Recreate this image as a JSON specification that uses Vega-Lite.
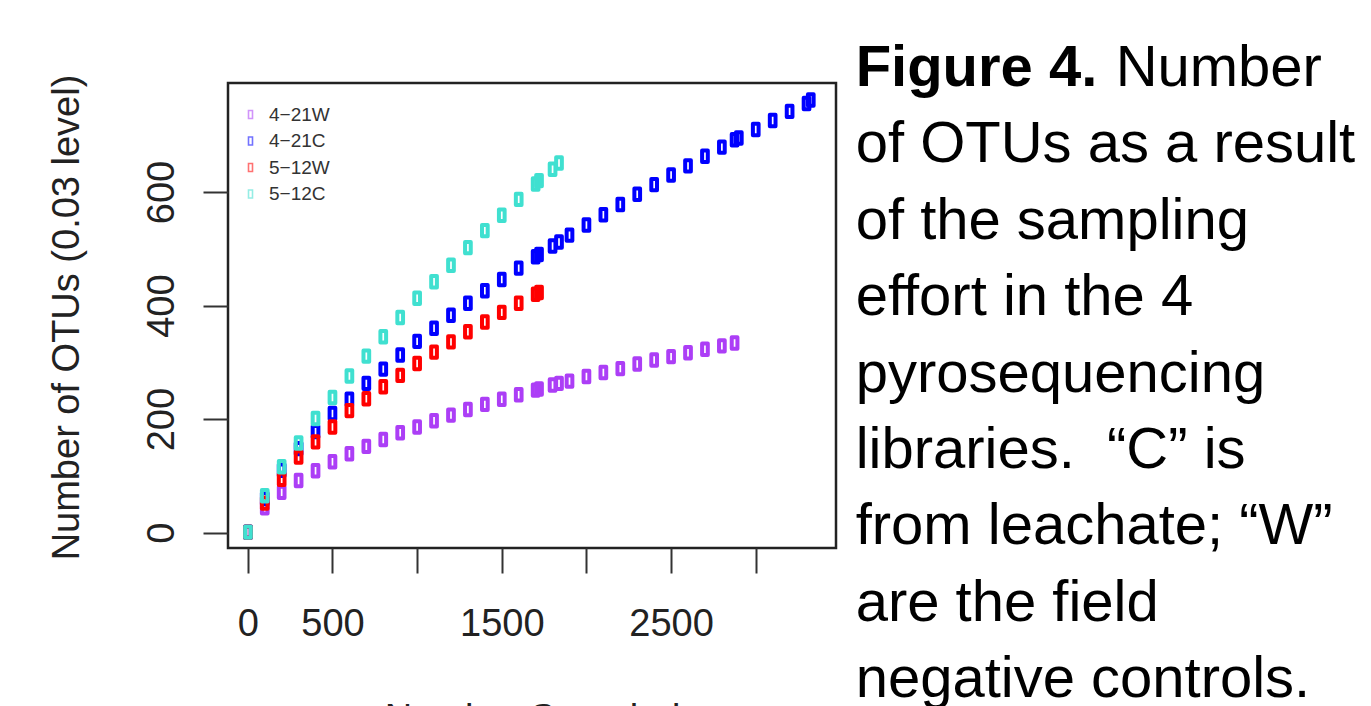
{
  "$schema": "https://vega.github.io/schema/vega-lite/v6.json",
  "width": 608,
  "height": 465,
  "autosize": {"type": "none"},
  "padding": {"left": 228, "top": 83, "right": 535, "bottom": 158},
  "background": "white",
  "config": {
    "view": {"stroke": "#222222", "strokeWidth": 2.5},
    "font": "Liberation Sans"
  },
  "datasets": {
    "otus": [
      {"lib": "4−21W", "n": 1, "otus": 1}, {"lib": "4−21W", "n": 100, "otus": 44}, {"lib": "4−21W", "n": 200, "otus": 71}, {"lib": "4−21W", "n": 300, "otus": 92}, {"lib": "4−21W", "n": 400, "otus": 109}, {"lib": "4−21W", "n": 500, "otus": 125}, {"lib": "4−21W", "n": 600, "otus": 139}, {"lib": "4−21W", "n": 700, "otus": 152}, {"lib": "4−21W", "n": 800, "otus": 164}, {"lib": "4−21W", "n": 900, "otus": 176}, {"lib": "4−21W", "n": 1000, "otus": 186}, {"lib": "4−21W", "n": 1100, "otus": 197}, {"lib": "4−21W", "n": 1200, "otus": 207}, {"lib": "4−21W", "n": 1300, "otus": 217}, {"lib": "4−21W", "n": 1400, "otus": 226}, {"lib": "4−21W", "n": 1500, "otus": 235}, {"lib": "4−21W", "n": 1600, "otus": 243}, {"lib": "4−21W", "n": 1700, "otus": 251}, {"lib": "4−21W", "n": 1720, "otus": 253}, {"lib": "4−21W", "n": 1800, "otus": 260}, {"lib": "4−21W", "n": 1838, "otus": 263}, {"lib": "4−21W", "n": 1900, "otus": 267}, {"lib": "4−21W", "n": 2000, "otus": 275}, {"lib": "4−21W", "n": 2100, "otus": 282}, {"lib": "4−21W", "n": 2200, "otus": 289}, {"lib": "4−21W", "n": 2300, "otus": 297}, {"lib": "4−21W", "n": 2400, "otus": 304}, {"lib": "4−21W", "n": 2500, "otus": 310}, {"lib": "4−21W", "n": 2600, "otus": 317}, {"lib": "4−21W", "n": 2700, "otus": 323}, {"lib": "4−21W", "n": 2800, "otus": 329}, {"lib": "4−21W", "n": 2875, "otus": 334},
      {"lib": "4−21C", "n": 1, "otus": 1}, {"lib": "4−21C", "n": 100, "otus": 60}, {"lib": "4−21C", "n": 200, "otus": 110}, {"lib": "4−21C", "n": 300, "otus": 148}, {"lib": "4−21C", "n": 400, "otus": 178}, {"lib": "4−21C", "n": 500, "otus": 210}, {"lib": "4−21C", "n": 600, "otus": 235}, {"lib": "4−21C", "n": 700, "otus": 263}, {"lib": "4−21C", "n": 800, "otus": 288}, {"lib": "4−21C", "n": 900, "otus": 313}, {"lib": "4−21C", "n": 1000, "otus": 337}, {"lib": "4−21C", "n": 1100, "otus": 360}, {"lib": "4−21C", "n": 1200, "otus": 383}, {"lib": "4−21C", "n": 1300, "otus": 404}, {"lib": "4−21C", "n": 1400, "otus": 426}, {"lib": "4−21C", "n": 1500, "otus": 446}, {"lib": "4−21C", "n": 1600, "otus": 466}, {"lib": "4−21C", "n": 1700, "otus": 486}, {"lib": "4−21C", "n": 1720, "otus": 490}, {"lib": "4−21C", "n": 1800, "otus": 505}, {"lib": "4−21C", "n": 1838, "otus": 512}, {"lib": "4−21C", "n": 1900, "otus": 524}, {"lib": "4−21C", "n": 2000, "otus": 542}, {"lib": "4−21C", "n": 2100, "otus": 560}, {"lib": "4−21C", "n": 2200, "otus": 578}, {"lib": "4−21C", "n": 2300, "otus": 596}, {"lib": "4−21C", "n": 2400, "otus": 613}, {"lib": "4−21C", "n": 2500, "otus": 630}, {"lib": "4−21C", "n": 2600, "otus": 646}, {"lib": "4−21C", "n": 2700, "otus": 663}, {"lib": "4−21C", "n": 2800, "otus": 679}, {"lib": "4−21C", "n": 2875, "otus": 692}, {"lib": "4−21C", "n": 2900, "otus": 695}, {"lib": "4−21C", "n": 3000, "otus": 710}, {"lib": "4−21C", "n": 3100, "otus": 726}, {"lib": "4−21C", "n": 3200, "otus": 742}, {"lib": "4−21C", "n": 3300, "otus": 756}, {"lib": "4−21C", "n": 3325, "otus": 762},
      {"lib": "5−12W", "n": 1, "otus": 1}, {"lib": "5−12W", "n": 100, "otus": 52}, {"lib": "5−12W", "n": 200, "otus": 94}, {"lib": "5−12W", "n": 300, "otus": 133}, {"lib": "5−12W", "n": 400, "otus": 160}, {"lib": "5−12W", "n": 500, "otus": 186}, {"lib": "5−12W", "n": 600, "otus": 215}, {"lib": "5−12W", "n": 700, "otus": 236}, {"lib": "5−12W", "n": 800, "otus": 257}, {"lib": "5−12W", "n": 900, "otus": 277}, {"lib": "5−12W", "n": 1000, "otus": 298}, {"lib": "5−12W", "n": 1100, "otus": 318}, {"lib": "5−12W", "n": 1200, "otus": 336}, {"lib": "5−12W", "n": 1300, "otus": 354}, {"lib": "5−12W", "n": 1400, "otus": 371}, {"lib": "5−12W", "n": 1500, "otus": 388}, {"lib": "5−12W", "n": 1600, "otus": 404}, {"lib": "5−12W", "n": 1700, "otus": 420}, {"lib": "5−12W", "n": 1720, "otus": 423},
      {"lib": "5−12C", "n": 1, "otus": 1}, {"lib": "5−12C", "n": 100, "otus": 65}, {"lib": "5−12C", "n": 200, "otus": 116}, {"lib": "5−12C", "n": 300, "otus": 158}, {"lib": "5−12C", "n": 400, "otus": 201}, {"lib": "5−12C", "n": 500, "otus": 238}, {"lib": "5−12C", "n": 600, "otus": 276}, {"lib": "5−12C", "n": 700, "otus": 311}, {"lib": "5−12C", "n": 800, "otus": 345}, {"lib": "5−12C", "n": 900, "otus": 379}, {"lib": "5−12C", "n": 1000, "otus": 413}, {"lib": "5−12C", "n": 1100, "otus": 442}, {"lib": "5−12C", "n": 1200, "otus": 471}, {"lib": "5−12C", "n": 1300, "otus": 502}, {"lib": "5−12C", "n": 1400, "otus": 532}, {"lib": "5−12C", "n": 1500, "otus": 559}, {"lib": "5−12C", "n": 1600, "otus": 587}, {"lib": "5−12C", "n": 1700, "otus": 614}, {"lib": "5−12C", "n": 1720, "otus": 620}, {"lib": "5−12C", "n": 1800, "otus": 640}, {"lib": "5−12C", "n": 1838, "otus": 651}
    ],
    "caption": [
      {"line": 1, "text": "Figure 4.", "part": "bold"},
      {"line": 1, "text": "Number", "part": "after"},
      {"line": 2, "text": "of OTUs as a result", "part": "plain"},
      {"line": 3, "text": "of the sampling", "part": "plain"},
      {"line": 4, "text": "effort in the 4", "part": "plain"},
      {"line": 5, "text": "pyrosequencing", "part": "plain"},
      {"line": 6, "text": "libraries.\u00a0 “C” is", "part": "plain"},
      {"line": 7, "text": "from leachate; “W”", "part": "plain"},
      {"line": 8, "text": "are the field", "part": "plain"},
      {"line": 9, "text": "negative controls.", "part": "plain"}
    ]
  },
  "resolve": {"scale": {"x": "independent", "y": "independent"}},
  "layer": [
    {
      "data": {"name": "otus"},
      "mark": {
        "type": "point",
        "filled": false,
        "shape": "M-0.5,-1H0.5V1H-0.5Z",
        "size": 130,
        "strokeWidth": 4,
        "strokeJoin": "round",
        "opacity": 1
      },
      "encoding": {
        "x": {
          "field": "n",
          "type": "quantitative",
          "scale": {"domain": [-117, 3474], "nice": false, "zero": false},
          "axis": {
            "title": "Number Sampled",
            "values": [0, 500, 1000, 1500, 2000, 2500, 3000],
            "labelExpr": "datum.value == 1000 || datum.value == 2000 || datum.value == 3000 ? '' : datum.label",
            "format": "d",
            "grid": false,
            "domain": false,
            "tickSize": 25,
            "tickWidth": 2,
            "tickColor": "#333333",
            "labelFontSize": 38,
            "labelFont": "Liberation Sans",
            "labelColor": "#222222",
            "labelPadding": 62,
            "labelBaseline": "alphabetic",
            "labelFlush": false,
            "labelOverlap": false,
            "titleFontSize": 38,
            "titleFont": "Liberation Sans",
            "titleFontWeight": "normal",
            "titleColor": "#222222",
            "titleBaseline": "top",
            "titleY": 152
          }
        },
        "y": {
          "field": "otus",
          "type": "quantitative",
          "scale": {"domain": [-27, 792], "nice": false, "zero": false},
          "axis": {
            "title": "Number of OTUs (0.03 level)",
            "values": [0, 200, 400, 600],
            "grid": false,
            "domain": false,
            "tickSize": 25,
            "tickWidth": 2,
            "tickColor": "#333333",
            "labelAngle": 270,
            "labelAlign": "center",
            "labelBaseline": "alphabetic",
            "labelPadding": 30,
            "labelFontSize": 38,
            "labelFont": "Liberation Sans",
            "labelColor": "#222222",
            "labelFlush": false,
            "labelOverlap": false,
            "titleFontSize": 38,
            "titleFont": "Liberation Sans",
            "titleFontWeight": "normal",
            "titleColor": "#222222",
            "titleAngle": 270,
            "titleAlign": "center",
            "titleBaseline": "alphabetic",
            "titleX": -150,
            "titleY": 234
          }
        },
        "color": {
          "field": "lib",
          "type": "nominal",
          "sort": null,
          "scale": {
            "domain": ["4−21W", "4−21C", "5−12W", "5−12C"],
            "range": ["#AC3EF6", "#0000FF", "#FF0000", "#40E0D0"]
          },
          "legend": {
            "title": null,
            "orient": "none",
            "legendX": 13,
            "legendY": 22,
            "padding": 0,
            "symbolType": "M-0.5,-1H0.5V1H-0.5Z",
            "symbolSize": 64,
            "symbolStrokeWidth": 1.6,
            "symbolOpacity": 0.55,
            "labelFontSize": 19,
            "labelFont": "Liberation Sans",
            "labelColor": "#333333",
            "labelOffset": 9,
            "rowPadding": 6.5
          }
        }
      }
    },
    {
      "data": {"name": "caption"},
      "transform": [{"filter": "datum.part == 'bold'"}],
      "mark": {"type": "text", "align": "left", "baseline": "alphabetic", "font": "Liberation Sans", "fontSize": 58, "fontWeight": "bold", "color": "#000000", "clip": false},
      "encoding": {
        "x": {"datum": 3590, "type": "quantitative", "scale": {"domain": [-117, 3474], "nice": false, "zero": false}, "axis": null},
        "y": {"field": "line", "type": "quantitative", "scale": {"domain": [1, 9], "range": [3, 614], "nice": false, "zero": false}, "axis": null},
        "text": {"field": "text"}
      }
    },
    {
      "data": {"name": "caption"},
      "transform": [{"filter": "datum.part == 'after'"}],
      "mark": {"type": "text", "align": "left", "baseline": "alphabetic", "font": "Liberation Sans", "fontSize": 58, "color": "#000000", "dx": 260, "clip": false},
      "encoding": {
        "x": {"datum": 3590, "type": "quantitative", "scale": {"domain": [-117, 3474], "nice": false, "zero": false}, "axis": null},
        "y": {"field": "line", "type": "quantitative", "scale": {"domain": [1, 9], "range": [3, 614], "nice": false, "zero": false}, "axis": null},
        "text": {"field": "text"}
      }
    },
    {
      "data": {"name": "caption"},
      "transform": [{"filter": "datum.part == 'plain'"}],
      "mark": {"type": "text", "align": "left", "baseline": "alphabetic", "font": "Liberation Sans", "fontSize": 58, "color": "#000000", "clip": false},
      "encoding": {
        "x": {"datum": 3590, "type": "quantitative", "scale": {"domain": [-117, 3474], "nice": false, "zero": false}, "axis": null},
        "y": {"field": "line", "type": "quantitative", "scale": {"domain": [1, 9], "range": [3, 614], "nice": false, "zero": false}, "axis": null},
        "text": {"field": "text"}
      }
    }
  ]
}
